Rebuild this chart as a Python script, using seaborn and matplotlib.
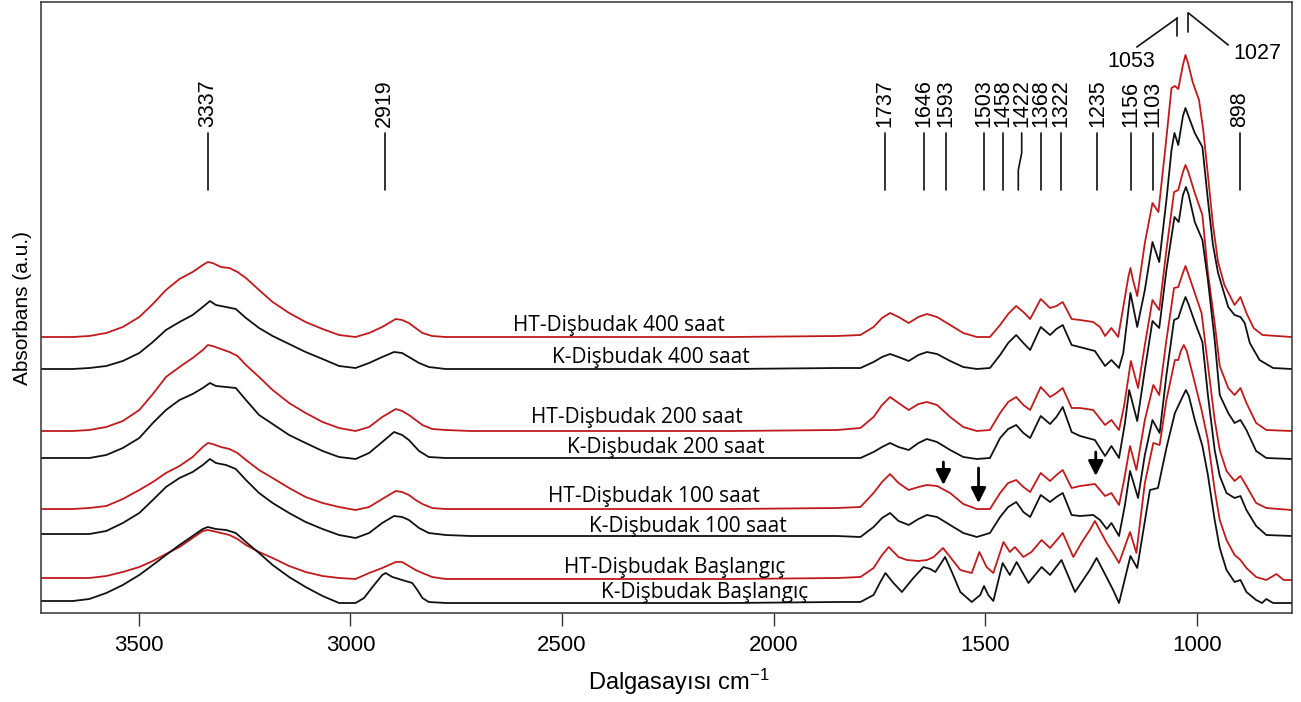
import matplotlib
matplotlib.use("Agg")
import matplotlib.pyplot as plt
import pandas as pd
import seaborn as sns

# ================= data (wavenumber cm-1 / absorbance a.u., stacked offsets included) =================
# --- shared wavenumber grids for each region ---
oh_wn_red = [3730, 3656, 3617, 3577, 3538, 3499, 3467, 3436, 3404, 3373, 3349, 3337, 3326, 3306, 3286, 3267, 3247,
             3216, 3184, 3145, 3106, 3066, 3027, 2988, 2956, 2925, 2909, 2893, 2878, 2862, 2846, 2830, 2807, 2775, 2716]
oh_wn_black = [3730, 3656, 3617, 3577, 3538, 3499, 3467, 3436, 3404, 3373, 3349, 3332, 3318, 3294, 3271, 3247, 3216,
               3184, 3145, 3106, 3066, 3027, 2988, 2956, 2925, 2897, 2878, 2862, 2838, 2815, 2775, 2716]
kb_oh_wn = [3730, 3656, 3617, 3577, 3538, 3499, 3467, 3436, 3404, 3373, 3349, 3337, 3318, 3294, 3271, 3247, 3216,
            3184, 3145, 3106, 3066, 3027, 2988, 2968, 2948, 2925, 2917, 2901, 2878, 2854, 2842, 2830, 2815, 2775, 2716]
mid_wn = [2400, 2100, 1850]
fp_wn = [1795, 1764, 1744, 1725, 1705, 1681, 1658, 1638, 1614, 1583, 1552, 1520, 1489, 1465, 1446, 1427, 1410,
         1394, 1369, 1347, 1332, 1317, 1296]
htb_fp_wn = [1795, 1764, 1744, 1728, 1705, 1685, 1658, 1638, 1622, 1600, 1583, 1559, 1532, 1514, 1497, 1481, 1457,
             1442, 1430, 1410, 1391, 1367, 1347, 1317, 1292, 1273, 1253]
kb_fp_wn = [1795, 1764, 1748, 1736, 1717, 1697, 1670, 1646, 1630, 1618, 1595, 1579, 1559, 1532, 1512, 1503, 1493,
            1481, 1459, 1442, 1426, 1398, 1367, 1347, 1320, 1288, 1253]

# --- HT-Dişbudak 400 saat ---
ht400_oh = [2.76, 2.76, 2.77, 2.80, 2.86, 2.96, 3.09, 3.23, 3.34, 3.41, 3.48, 3.51, 3.50, 3.46, 3.45, 3.41, 3.35,
            3.23, 3.11, 3.00, 2.91, 2.84, 2.78, 2.76, 2.80, 2.86, 2.90, 2.94, 2.93, 2.90, 2.85, 2.80, 2.77, 2.76, 2.76]
ht400_mid = [2.76, 2.76, 2.77]
ht400_fp = [2.78, 2.86, 2.95, 3.00, 2.96, 2.90, 2.96, 2.99, 2.96, 2.88, 2.80, 2.76, 2.76, 2.88, 2.99, 3.07, 3.01,
            2.94, 3.14, 3.05, 3.07, 3.11, 2.94]
ht400_r_wn = [1276, 1245, 1229, 1217, 1202, 1186, 1174, 1162, 1157, 1151, 1141, 1123, 1105, 1091, 1075, 1060, 1052,
              1044, 1033, 1027, 1021, 1010, 995, 985, 974, 962, 950, 935, 911, 897, 883, 866, 845, 776]
ht400_r = [2.93, 2.91, 2.86, 2.77, 2.85, 2.76, 3.06, 3.36, 3.45, 3.33, 3.17, 3.70, 4.10, 4.01, 4.63, 5.25, 5.27,
           5.24, 5.48, 5.58, 5.50, 5.31, 5.13, 4.83, 4.38, 3.88, 3.51, 3.28, 3.08, 3.16, 3.00, 2.85, 2.78, 2.76]

# --- K-Dişbudak 400 saat ---
k400_oh = [2.44, 2.44, 2.45, 2.47, 2.52, 2.60, 2.71, 2.83, 2.91, 2.98, 3.06, 3.12, 3.08, 3.06, 3.04, 2.95, 2.85,
           2.77, 2.69, 2.61, 2.54, 2.47, 2.45, 2.50, 2.56, 2.61, 2.60, 2.56, 2.50, 2.46, 2.44, 2.44]
k400_mid = [2.44, 2.44, 2.45]
k400_fp = [2.45, 2.51, 2.56, 2.59, 2.56, 2.52, 2.58, 2.61, 2.59, 2.52, 2.46, 2.44, 2.45, 2.58, 2.70, 2.78, 2.70,
           2.63, 2.86, 2.78, 2.84, 2.88, 2.68]
k400_r_wn = [1277, 1241, 1217, 1202, 1184, 1174, 1157, 1141, 1123, 1105, 1089, 1072, 1060, 1053, 1044, 1033, 1027,
             1021, 1005, 987, 974, 962, 950, 926, 911, 897, 887, 875, 852, 820, 776]
k400_r = [2.66, 2.62, 2.47, 2.53, 2.45, 2.60, 3.20, 2.86, 3.23, 3.71, 3.51, 4.13, 4.63, 4.80, 4.68, 4.97, 5.05,
          4.98, 4.80, 4.66, 4.13, 3.68, 3.40, 3.06, 2.98, 2.96, 2.90, 2.70, 2.53, 2.45, 2.44]

# --- HT-Dişbudak 200 saat ---
ht200_oh = [1.82, 1.82, 1.83, 1.86, 1.92, 2.03, 2.19, 2.36, 2.46, 2.55, 2.63, 2.68, 2.67, 2.64, 2.61, 2.57, 2.48,
            2.36, 2.23, 2.10, 2.00, 1.91, 1.85, 1.82, 1.86, 1.96, 2.00, 2.04, 2.02, 1.98, 1.93, 1.88, 1.84, 1.83, 1.82]
ht200_mid = [1.82, 1.82, 1.83]
ht200_fp = [1.85, 1.96, 2.08, 2.16, 2.10, 2.03, 2.09, 2.11, 2.08, 1.96, 1.86, 1.82, 1.83, 2.00, 2.11, 2.16, 2.08,
            2.03, 2.26, 2.16, 2.20, 2.25, 2.05]
ht200_r_wn = [1276, 1245, 1217, 1202, 1184, 1172, 1156, 1139, 1123, 1105, 1089, 1072, 1054, 1044, 1033, 1027, 1021,
              1005, 987, 974, 958, 946, 926, 911, 897, 883, 860, 836, 776]
ht200_r = [2.05, 2.03, 1.88, 1.93, 1.83, 2.07, 2.52, 2.25, 2.68, 3.13, 3.03, 3.63, 4.21, 4.23, 4.41, 4.48, 4.42,
           4.20, 3.98, 3.40, 2.90, 2.47, 2.25, 2.18, 2.25, 2.10, 1.90, 1.83, 1.82]

# --- K-Dişbudak 200 saat ---
k200_oh = [1.55, 1.55, 1.55, 1.58, 1.65, 1.75, 1.90, 2.03, 2.13, 2.19, 2.25, 2.30, 2.27, 2.26, 2.25, 2.13, 1.98,
           1.89, 1.78, 1.70, 1.62, 1.56, 1.54, 1.60, 1.71, 1.81, 1.78, 1.73, 1.62, 1.56, 1.55, 1.55]
k200_mid = [1.55, 1.55, 1.55]
k200_fp = [1.55, 1.61, 1.66, 1.70, 1.66, 1.63, 1.70, 1.74, 1.71, 1.63, 1.56, 1.54, 1.55, 1.75, 1.84, 1.88, 1.80,
           1.75, 1.97, 1.89, 1.96, 2.06, 1.81]
k200_r_wn = [1276, 1241, 1217, 1202, 1184, 1170, 1160, 1141, 1123, 1105, 1089, 1072, 1053, 1043, 1033, 1026, 1020,
             1005, 987, 974, 958, 946, 926, 911, 897, 883, 860, 836, 776]
k200_r = [1.77, 1.73, 1.57, 1.67, 1.55, 1.90, 2.23, 1.92, 2.43, 2.92, 2.85, 3.43, 3.96, 3.91, 4.18, 4.26, 4.19,
          3.91, 3.73, 3.33, 2.73, 2.18, 2.00, 1.90, 1.93, 1.83, 1.62, 1.55, 1.54]

# --- HT-Dişbudak 100 saat ---
ht100_oh = [1.04, 1.04, 1.05, 1.07, 1.14, 1.23, 1.31, 1.40, 1.47, 1.56, 1.66, 1.70, 1.69, 1.66, 1.64, 1.60, 1.53,
            1.43, 1.35, 1.25, 1.16, 1.10, 1.06, 1.03, 1.06, 1.14, 1.18, 1.22, 1.21, 1.18, 1.13, 1.09, 1.05, 1.04, 1.04]
ht100_mid = [1.04, 1.04, 1.05]
ht100_fp = [1.06, 1.20, 1.31, 1.39, 1.30, 1.23, 1.26, 1.28, 1.27, 1.20, 1.09, 1.04, 1.04, 1.20, 1.30, 1.33, 1.26,
            1.21, 1.40, 1.32, 1.38, 1.43, 1.25]
ht100_r_wn = [1276, 1241, 1217, 1202, 1184, 1172, 1158, 1143, 1123, 1103, 1089, 1072, 1054, 1044, 1034, 1027, 1021,
              1005, 989, 974, 958, 946, 930, 911, 897, 883, 860, 836, 776]
ht100_r = [1.27, 1.29, 1.17, 1.20, 1.08, 1.33, 1.67, 1.43, 1.93, 2.28, 2.18, 2.73, 3.25, 3.26, 3.39, 3.47, 3.40,
           3.20, 3.00, 2.48, 1.93, 1.63, 1.42, 1.32, 1.37, 1.27, 1.10, 1.05, 1.03]

# --- K-Dişbudak 100 saat ---
k100_oh = [0.79, 0.79, 0.79, 0.82, 0.90, 1.00, 1.13, 1.26, 1.35, 1.41, 1.48, 1.54, 1.50, 1.48, 1.44, 1.33, 1.20,
           1.10, 1.00, 0.91, 0.84, 0.78, 0.75, 0.80, 0.90, 0.97, 0.96, 0.93, 0.85, 0.80, 0.78, 0.77]
k100_mid = [0.77, 0.77, 0.77]
k100_fp = [0.76, 0.86, 0.95, 1.00, 0.92, 0.88, 0.94, 0.98, 0.96, 0.88, 0.80, 0.76, 0.80, 0.96, 1.06, 1.11, 1.01,
           0.96, 1.18, 1.11, 1.16, 1.20, 0.98]
k100_r_wn = [1276, 1245, 1229, 1213, 1202, 1184, 1170, 1158, 1139, 1123, 1105, 1088, 1072, 1054, 1044, 1034, 1027,
             1020, 1005, 987, 974, 958, 946, 930, 911, 897, 883, 860, 836, 776]
k100_r = [0.97, 0.98, 0.93, 0.84, 0.90, 0.77, 1.08, 1.42, 1.15, 1.58, 1.93, 1.80, 2.38, 2.93, 2.95, 3.08, 3.16,
          3.09, 2.91, 2.71, 2.18, 1.63, 1.37, 1.20, 1.15, 1.17, 1.03, 0.87, 0.78, 0.77]

# --- HT-Dişbudak Başlangıç ---
htb_oh = [0.35, 0.35, 0.35, 0.37, 0.41, 0.46, 0.52, 0.59, 0.66, 0.75, 0.82, 0.83, 0.82, 0.80, 0.78, 0.74, 0.68,
          0.61, 0.55, 0.47, 0.41, 0.37, 0.35, 0.34, 0.40, 0.45, 0.48, 0.51, 0.51, 0.47, 0.43, 0.40, 0.36, 0.34, 0.34]
htb_mid = [0.34, 0.34, 0.35]
htb_fp = [0.36, 0.45, 0.58, 0.66, 0.56, 0.53, 0.52, 0.53, 0.56, 0.65, 0.56, 0.43, 0.40, 0.61, 0.46, 0.40, 0.71,
          0.61, 0.66, 0.56, 0.61, 0.73, 0.65, 0.80, 0.56, 0.70, 0.83]
htb_r_wn = [1241, 1213, 1198, 1184, 1158, 1143, 1123, 1103, 1088, 1072, 1052, 1044, 1038, 1031, 1024, 1009, 989,
            974, 958, 946, 930, 911, 897, 883, 860, 836, 812, 795, 776]
htb_r = [0.92, 0.70, 0.60, 0.50, 0.81, 0.60, 1.30, 1.70, 1.68, 2.13, 2.53, 2.53, 2.62, 2.68, 2.62, 2.37, 2.03,
         1.73, 1.23, 0.93, 0.73, 0.58, 0.53, 0.45, 0.36, 0.33, 0.39, 0.33, 0.33]

# --- K-Dişbudak Başlangıç ---
kb_oh = [0.12, 0.12, 0.14, 0.20, 0.28, 0.38, 0.48, 0.58, 0.68, 0.77, 0.84, 0.86, 0.84, 0.83, 0.80, 0.71, 0.60,
         0.48, 0.36, 0.26, 0.17, 0.10, 0.10, 0.15, 0.26, 0.38, 0.40, 0.36, 0.33, 0.30, 0.23, 0.15, 0.11, 0.10, 0.10]
kb_mid = [0.10, 0.10, 0.11]
kb_fp = [0.11, 0.18, 0.31, 0.40, 0.30, 0.21, 0.35, 0.46, 0.44, 0.41, 0.56, 0.41, 0.21, 0.11, 0.18, 0.27, 0.18,
         0.12, 0.50, 0.38, 0.51, 0.30, 0.46, 0.38, 0.53, 0.21, 0.43]
kb_r_wn = [1237, 1210, 1198, 1184, 1157, 1141, 1111, 1092, 1072, 1052, 1033, 1026, 1019, 1005, 987, 974, 958,
           946, 930, 911, 897, 883, 860, 846, 836, 820, 800, 776]
kb_r = [0.55, 0.33, 0.23, 0.10, 0.57, 0.45, 1.23, 1.25, 1.65, 2.00, 2.17, 2.23, 2.17, 1.93, 1.67, 1.38, 0.93,
        0.65, 0.43, 0.31, 0.33, 0.21, 0.13, 0.10, 0.14, 0.10, 0.10, 0.10]

series_names = ["HT-Dişbudak 400 saat", "K-Dişbudak 400 saat", "HT-Dişbudak 200 saat", "K-Dişbudak 200 saat",
                "HT-Dişbudak 100 saat", "K-Dişbudak 100 saat", "HT-Dişbudak Başlangıç", "K-Dişbudak Başlangıç"]
# curve-label anchors (left edge wavenumber, baseline absorbance)
label_wn = [2615, 2525, 2574, 2488, 2533, 2437, 2496, 2407]
label_ab = [2.82, 2.50, 1.90, 1.60, 1.11, 0.81, 0.40, 0.15]

peak_labels = [3337, 2919, 1737, 1646, 1593, 1503, 1458, 1422, 1368, 1322, 1235, 1156, 1103, 898]
arrow_wn = [1599, 1516, 1239]
arrow_top = [1.51, 1.45, 1.61]
arrow_tip = [1.28, 1.10, 1.37]

# ================= assemble long-form table =================
series_wn = [
    oh_wn_red + mid_wn + fp_wn + ht400_r_wn,
    oh_wn_black + mid_wn + fp_wn + k400_r_wn,
    oh_wn_red + mid_wn + fp_wn + ht200_r_wn,
    oh_wn_black + mid_wn + fp_wn + k200_r_wn,
    oh_wn_red + mid_wn + fp_wn + ht100_r_wn,
    oh_wn_black + mid_wn + fp_wn + k100_r_wn,
    oh_wn_red + mid_wn + htb_fp_wn + htb_r_wn,
    kb_oh_wn + mid_wn + kb_fp_wn + kb_r_wn,
]
series_ab = [
    ht400_oh + ht400_mid + ht400_fp + ht400_r,
    k400_oh + k400_mid + k400_fp + k400_r,
    ht200_oh + ht200_mid + ht200_fp + ht200_r,
    k200_oh + k200_mid + k200_fp + k200_r,
    ht100_oh + ht100_mid + ht100_fp + ht100_r,
    k100_oh + k100_mid + k100_fp + k100_r,
    htb_oh + htb_mid + htb_fp + htb_r,
    kb_oh + kb_mid + kb_fp + kb_r,
]

frames = []
for name, wn, ab in zip(series_names, series_wn, series_ab):
    frames.append(pd.DataFrame({"wn": wn, "ab": ab, "sample": name}))
data = pd.concat(frames, ignore_index=True)

RED = "#c01a1c"
BLACK = "#111111"

# ================= plotting =================
sns.set_theme(style="white")
plt.rcParams["font.family"] = ["Liberation Sans", "DejaVu Sans"]
plt.rcParams["mathtext.fontset"] = "custom"
plt.rcParams["mathtext.rm"] = "Liberation Sans"
plt.rcParams["mathtext.it"] = "Liberation Sans:italic"
plt.rcParams["mathtext.bf"] = "Liberation Sans:bold"
plt.rcParams["text.color"] = "black"
plt.rcParams["axes.labelcolor"] = "black"
plt.rcParams["xtick.color"] = "black"

fig = plt.figure(figsize=(13.01, 7.02), dpi=100)
ax = fig.add_axes([0.03128, 0.12678, 0.96157, 0.87037])

palette = {n: (RED if n.startswith("HT") else BLACK) for n in series_names}
sns.lineplot(data=data, x="wn", y="ab", hue="sample", units="sample", estimator=None,
             sort=False, palette=palette, lw=1.3, legend=False, ax=ax,
             solid_joinstyle="round", solid_capstyle="round")

ax.set_xlim(3732, 776)
ax.set_ylim(0, 6.11)
ax.set_yticks([])
ax.set_xticks([3500, 3000, 2500, 2000, 1500, 1000])
ax.tick_params(axis="x", direction="out", length=9.5, width=1.0, color="#333333",
               labelcolor="black", labelsize=16, pad=6, bottom=True)
for sp in ax.spines.values():
    sp.set_visible(True)
    sp.set_color("#333333")
    sp.set_linewidth(1.1)

ax.set_xlabel("Dalgasayısı cm$^{-1}$", fontsize=17, color="black")
ax.xaxis.set_label_coords(0.51, -0.088)
ax.set_ylabel("Absorbans (a.u.)", fontsize=15, labelpad=6, color="black")

# curve labels
for name, lx, ly in zip(series_names, label_wn, label_ab):
    ax.text(lx, ly, name, fontsize=15, family=["Open Sans", "DejaVu Sans"],
            ha="left", va="baseline", color="black")

# peak position markers
for p in peak_labels:
    tx = 1414 if p == 1422 else p
    if p == 1422:
        ax.plot([1414, 1414, 1422, 1422], [4.80, 4.60, 4.43, 4.23], color=BLACK, lw=1.2)
    else:
        ax.plot([p, p], [4.23, 4.80], color=BLACK, lw=1.2)
    ax.text(tx, 4.86, str(p), rotation=90, ha="center", va="bottom", fontsize=15.5, color="black")

# 1053 / 1027 leader lines
ax.plot([1046, 1046], [5.77, 5.95], color=BLACK, lw=1.2)
ax.plot([1020, 1020], [5.81, 6.00], color=BLACK, lw=1.2)
ax.plot([1046, 1142], [5.95, 5.66], color=BLACK, lw=1.2)
ax.plot([1020, 926], [6.00, 5.68], color=BLACK, lw=1.2)
ax.text(1156, 5.52, "1053", ha="center", va="center", fontsize=15.5, color="black")
ax.text(858, 5.60, "1027", ha="center", va="center", fontsize=15.5, color="black")

# arrows
for xw, yt, yb in zip(arrow_wn, arrow_top, arrow_tip):
    ax.annotate("", xy=(xw, yb), xytext=(xw, yt),
                arrowprops=dict(arrowstyle="-|>,head_length=0.6,head_width=0.3", color="black",
                                lw=2.0, mutation_scale=15, shrinkA=0, shrinkB=0))

fig.savefig("out.png", dpi=100, facecolor="white")
